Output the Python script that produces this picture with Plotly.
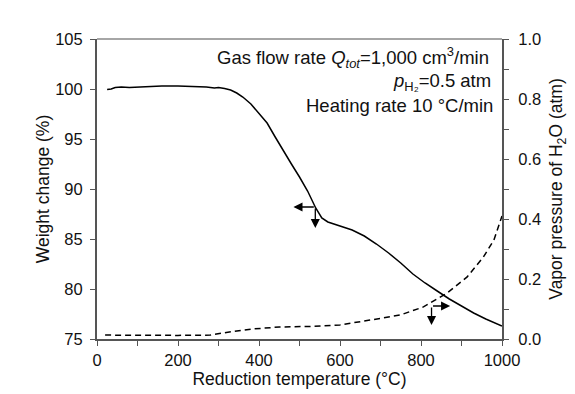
import plotly.graph_objects as go

# Weight change (%) vs reduction temperature (°C)
temp_w = [25, 35, 45, 60, 80, 100, 130, 160, 200, 240, 270, 290, 300, 315, 330, 345, 360, 380,
          400, 420, 440, 460, 480, 500, 520, 540, 555, 570, 600, 630, 660, 690, 720, 750,
          780, 810, 840, 870, 900, 930, 960, 1000]
weight = [99.95, 100.0, 100.15, 100.2, 100.15, 100.2, 100.25, 100.3, 100.3, 100.25, 100.2, 100.1,
          100.15, 100.05, 99.9, 99.6, 99.2, 98.5, 97.6, 96.6, 95.2, 93.8, 92.5, 91.2, 89.8,
          88.1, 87.1, 86.7, 86.3, 85.9, 85.3, 84.5, 83.6, 82.6, 81.5, 80.6, 79.8, 79.0,
          78.3, 77.6, 77.0, 76.3]

# Vapor pressure of H2O (atm)
temp_p = [20, 100, 200, 280, 310, 380, 450, 527, 600, 674, 749, 806, 864, 914, 954, 980, 1000]
vapor = [0.013, 0.012, 0.012, 0.013, 0.02, 0.033, 0.04, 0.042, 0.047, 0.063, 0.08, 0.107,
         0.153, 0.207, 0.273, 0.33, 0.41]

# arrow indicators: (corner, tip) in data coords of left axis
arrow1_corner = (539, 88.2)
arrow1_tips = [(485, 88.2), (539, 86.1)]
arrow2_corner = (826, 78.3)
arrow2_tips = [(872, 78.3), (826, 76.4)]

FONT = "Liberation Sans, Arial, sans-serif"
AX = "#555555"

fig = go.Figure()
fig.add_trace(go.Scatter(x=temp_w, y=weight, mode="lines",
                         line=dict(color="black", width=1.5), showlegend=False))
fig.add_trace(go.Scatter(x=temp_p, y=vapor, mode="lines", yaxis="y2",
                         line=dict(color="black", width=1.5, dash="6px,4px"), showlegend=False))

annotations = []
for corner, tips in [(arrow1_corner, arrow1_tips), (arrow2_corner, arrow2_tips)]:
    for tip in tips:
        annotations.append(dict(x=tip[0], y=tip[1], ax=corner[0], ay=corner[1],
                                xref="x", yref="y", axref="x", ayref="y",
                                showarrow=True, arrowhead=2, arrowsize=1.4,
                                arrowwidth=1.3, arrowcolor="black", text=""))

txt_font = dict(family=FONT, size=18.5, color="#111111")
annotations += [
    dict(x=0.973, y=0.937, xref="paper", yref="paper", xanchor="right", yanchor="middle",
         showarrow=False, font=txt_font,
         text="Gas flow rate <i>Q</i><sub><i>tot</i></sub>=1,000 cm<sup>3</sup>/min"),
    dict(x=0.978, y=0.857, xref="paper", yref="paper", xanchor="right", yanchor="middle",
         showarrow=False, font=txt_font,
         text="<i>p</i><sub>H₂</sub>=0.5 atm"),
    dict(x=0.983, y=0.777, xref="paper", yref="paper", xanchor="right", yanchor="middle",
         showarrow=False, font=txt_font,
         text="Heating rate 10 °C/min"),
]

TITLE = dict(family=FONT, size=17.5, color="#111111")

fig.update_layout(
    width=567, height=386,
    margin=dict(l=89, r=73, t=31, b=55, autoexpand=False),
    paper_bgcolor="white", plot_bgcolor="white",
    font=dict(family=FONT, size=16.5, color="#111111"),
    xaxis=dict(range=[0, 1000], tickvals=[0, 200, 400, 600, 800, 1000], automargin=False,
               ticks="outside", ticklen=5, tickwidth=1, tickcolor=AX,
               minor=dict(dtick=100, ticks="outside", ticklen=5, tickcolor=AX),
               showline=True, linecolor=AX, linewidth=2, showgrid=False, zeroline=False,
               title=dict(text="Reduction temperature (°C)", standoff=2, font=TITLE)),
    yaxis=dict(range=[75, 105], tickvals=[75, 80, 85, 90, 95, 100, 105], automargin=False,
               ticks="outside", ticklen=5, tickwidth=1, tickcolor=AX,
               showline=True, linecolor=AX, linewidth=2, showgrid=False, zeroline=False,
               title=dict(text="Weight change (%)", standoff=1, font=TITLE),
               ticklabelstandoff=4),
    yaxis2=dict(range=[0, 1], overlaying="y", side="right", automargin=False,
                tickvals=[0, 0.2, 0.4, 0.6, 0.8, 1.0], ticktext=["0.0", "0.2", "0.4", "0.6", "0.8", "1.0"],
                ticks="outside", ticklen=5, tickwidth=1, tickcolor=AX,
                minor=dict(dtick=0.1, ticks="outside", ticklen=5, tickcolor=AX),
                showline=True, linecolor=AX, linewidth=2, showgrid=False, zeroline=False,
                title=dict(text="Vapor pressure of H<sub>2</sub>O (atm)", standoff=10, font=TITLE),
                ticklabelstandoff=6),
    annotations=annotations,
    shapes=[dict(type="line", xref="paper", yref="paper", x0=0, x1=1, y0=1, y1=1,
                 line=dict(color="#888888", width=1.5))],
)

fig.write_html("out.html")
